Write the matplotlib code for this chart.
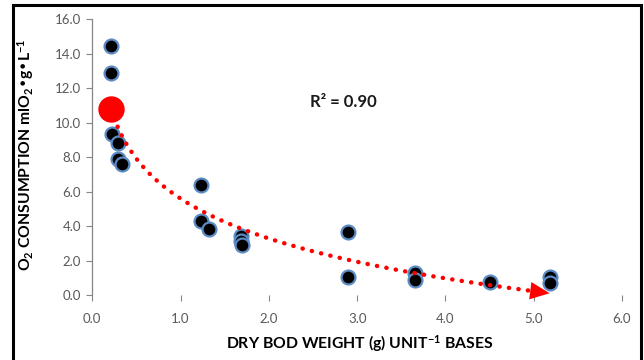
import numpy as np
import matplotlib
matplotlib.use("Agg")
import matplotlib.pyplot as plt
from matplotlib.patches import Rectangle

plt.rcParams['font.family'] = ['Lato', 'DejaVu Sans']
plt.rcParams['mathtext.default'] = 'regular'

# Data
dry_weight = [0.21, 0.21, 0.22, 0.29, 0.29, 0.34,
              1.23, 1.23, 1.32, 1.68, 1.68, 1.70,
              2.90, 2.90, 3.66, 3.66, 4.50, 5.18, 5.18]
o2_consumption = [14.47, 12.87, 9.34, 8.80, 7.90, 7.60,
                  6.38, 4.31, 3.83, 3.42, 3.15, 2.90,
                  3.67, 1.06, 1.26, 0.87, 0.74, 1.06, 0.68]
x_ticks = [0.0, 1.0, 2.0, 3.0, 4.0, 5.0, 6.0]
y_ticks = [0.0, 2.0, 4.0, 6.0, 8.0, 10.0, 12.0, 14.0, 16.0]
r2_label = "R² = 0.90"

fig = plt.figure(figsize=(6.44, 3.6), dpi=100)
ax = fig.add_axes([0.1433, 0.1806, 0.8225, 0.7658])

x = np.array(dry_weight)
y = np.array(o2_consumption)

# logarithmic trendline (Excel style), fitted from the data
b, a = np.polyfit(np.log(x), y, 1)
xt = np.linspace(x.min(), x.max(), 200)
yt = a + b * np.log(xt)

ax.scatter(x, y, s=100, c='black', edgecolors='#5b8bc4', linewidths=1.6, zorder=3)

ax.plot(xt[:-6], yt[:-6], color='red', lw=3.2, linestyle=(0, (0.05, 2.1)),
        dash_capstyle='round', zorder=4)
ax.plot([xt[0]], [yt[0]], 'o', color='red', markersize=18, zorder=5)
ax.annotate('', xy=(xt[-1], yt[-1]), xytext=(xt[-12], yt[-12]),
            arrowprops=dict(arrowstyle='-|>,head_length=1.0,head_width=0.45',
                            color='red', lw=0, mutation_scale=14,
                            shrinkA=0, shrinkB=0), zorder=5)

ax.set_xlim(0, 6)
ax.set_ylim(0, 16)
ax.set_xticks(x_ticks)
ax.set_yticks(y_ticks)
ax.set_xticklabels([f"{v:.1f}" for v in x_ticks])
ax.set_yticklabels([f"{v:.1f}" for v in y_ticks])

for s in ['top', 'right', 'bottom']:
    ax.spines[s].set_visible(False)
ax.spines['left'].set_color('#868686')
ax.spines['left'].set_linewidth(0.9)
ax.tick_params(axis='both', colors='#868686', labelcolor='#595959',
               labelsize=9.5, direction='out', length=4, width=0.8)
ax.tick_params(axis='x', pad=9)
ax.tick_params(axis='y', pad=4)

ax.text(2.845, 11.2, r2_label, fontsize=12, fontweight='bold', color='#1a1a1a',
        ha='center', va='center')

fig.text(0.040, 0.57, r"O$_2$ CONSUMPTION mlO$_2$•g•L$^{-1}$", rotation=90,
         fontsize=11.3, fontweight='bold', ha='center', va='center')
fig.text(0.559, 0.045, r"DRY BOD WEIGHT (g) UNIT$^{-1}$ BASES",
         fontsize=11.3, fontweight='bold', ha='center', va='center')

fig.patches.append(Rectangle((12.7 / 644, -0.05), (641 - 12.7) / 644, 1.05 - 5 / 360,
                             transform=fig.transFigure, fill=False,
                             edgecolor='black', linewidth=2.2, clip_on=False))

fig.savefig('out.png', dpi=100)
